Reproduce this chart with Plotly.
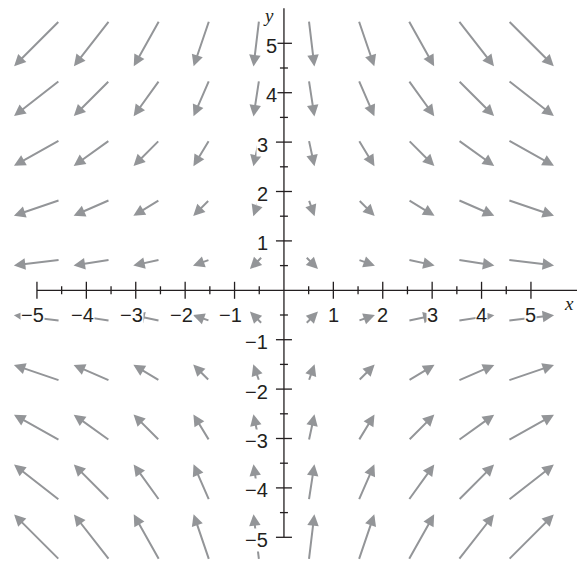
import math
import plotly.graph_objects as go

# ---------------- data ----------------
# arrow centres (columns left->right, rows top->bottom)
grid_x = [-5.0, -3.89, -2.78, -1.67, -0.56, 0.56, 1.67, 2.78, 3.89, 5.0]
grid_y = [5.0, 3.89, 2.78, 1.67, 0.56, -0.56, -1.67, -2.78, -3.89, -5.0]
# field components: horizontal part per column, vertical part per row
field_u = [-5.0, -3.9, -2.8, -1.7, -0.6, 0.6, 1.7, 2.8, 3.9, 5.0]
field_v = [-5.0, -3.9, -2.8, -1.7, -0.6, 0.6, 1.7, 2.8, 3.9, 5.0]

x_tick_major = [-5, -4, -3, -2, -1, 1, 2, 3, 4, 5]
x_tick_minor = [-4.5, -3.5, -2.5, -1.5, -0.5, 0.5, 1.5, 2.5, 3.5, 4.5]
y_tick_major = [-5, -4, -3, -2, -1, 1, 2, 3, 4, 5]
y_tick_minor = [-4.5, -3.5, -2.5, -1.5, -0.5, 0.5, 1.5, 2.5, 3.5, 4.5]
x_tick_text = ["\u22125", "\u22124", "\u22123", "\u22122", "\u22121", "1", "2", "3", "4", "5"]
y_tick_text = ["\u22125", "\u22124", "\u22123", "\u22122", "\u22121", "1", "2", "3", "4", "5"]

# ---------------- layout / style ----------------
W, H = 577, 561
PX = 49.4            # pixels per unit
X0_PX, Y0_PX = 283.95, 290.3
x_range = [-X0_PX / PX, (W - X0_PX) / PX]
y_range = [(Y0_PX - H) / PX, Y0_PX / PX]

ARROW_COLOR = "#939598"
AXIS_COLOR = "#231f20"
TEXT_COLOR = "#231f20"
MIN_LEN, LEN_OFFSET, LEN_GAIN = 18.0, 2.0, 8.85   # arrow length scaling (px)

fig = go.Figure()
fig.add_trace(go.Scatter(x=[], y=[], mode="markers", showlegend=False, hoverinfo="skip"))

annotations = []
for j, cy in enumerate(grid_y):
    for i, cx in enumerate(grid_x):
        u, v = field_u[i], field_v[j]
        mag = math.hypot(u, v)
        L = max(MIN_LEN, LEN_OFFSET + LEN_GAIN * mag) / PX
        dx, dy = u / mag * L / 2, v / mag * L / 2
        annotations.append(dict(
            x=cx + dx, y=cy + dy, ax=cx - dx, ay=cy - dy,
            xref="x", yref="y", axref="x", ayref="y",
            text="", showarrow=True, arrowhead=2, arrowsize=1.15,
            arrowwidth=2, arrowcolor=ARROW_COLOR, standoff=0,
        ))

shapes = []
# axis lines
shapes.append(dict(type="line", xref="x", yref="y", x0=-5, x1=x_range[1], y0=0, y1=0,
                   line=dict(color=AXIS_COLOR, width=1.3), layer="above"))
shapes.append(dict(type="line", xref="x", yref="y", x0=0, x1=0, y0=-5, y1=5.71,
                   line=dict(color=AXIS_COLOR, width=1.3), layer="above"))
# ticks
for t in x_tick_major:
    shapes.append(dict(type="line", xref="x", yref="y", x0=t, x1=t, ysizemode="pixel",
                       yanchor=0, y0=-8.5, y1=8.5, line=dict(color=AXIS_COLOR, width=1.3), layer="above"))
for t in x_tick_minor:
    shapes.append(dict(type="line", xref="x", yref="y", x0=t, x1=t, ysizemode="pixel",
                       yanchor=0, y0=-4, y1=4, line=dict(color=AXIS_COLOR, width=1.3), layer="above"))
for t in y_tick_major:
    shapes.append(dict(type="line", xref="x", yref="y", y0=t, y1=t, xsizemode="pixel",
                       xanchor=0, x0=-8, x1=8, line=dict(color=AXIS_COLOR, width=1.3), layer="above"))
for t in y_tick_minor:
    shapes.append(dict(type="line", xref="x", yref="y", y0=t, y1=t, xsizemode="pixel",
                       xanchor=0, x0=-4, x1=4, line=dict(color=AXIS_COLOR, width=1.3), layer="above"))

label_font = dict(family="Liberation Sans, Arial, Helvetica, sans-serif", size=20, color=TEXT_COLOR)
for t, s in zip(x_tick_major, x_tick_text):
    annotations.append(dict(x=t, y=0, xref="x", yref="y", text=s, showarrow=False,
                            xanchor="center", yanchor="middle", yshift=-25,
                            xshift=-4 if t < 0 else 0, font=label_font,
                            bgcolor="white", borderpad=0))
for t, s in zip(y_tick_major, y_tick_text):
    annotations.append(dict(x=0, y=t, xref="x", yref="y", text=s, showarrow=False,
                            xanchor="right", yanchor="middle", yshift=-2.5,
                            xshift=-6 if t >= 4 else -15, font=label_font,
                            bgcolor="white", borderpad=0))

axis_name_font = dict(family="Liberation Serif, Times New Roman, serif", size=19, color=TEXT_COLOR)
annotations.append(dict(x=0, y=y_range[1], xref="x", yref="y", text="<i>y</i>", showarrow=False,
                        xanchor="right", yanchor="top", xshift=-8, yshift=-3, font=axis_name_font))
annotations.append(dict(x=x_range[1], y=0, xref="x", yref="y", text="<i>x</i>", showarrow=False,
                        xanchor="right", yanchor="middle", xshift=-1, yshift=-13, font=axis_name_font))

fig.update_layout(
    width=W, height=H, autosize=False,
    margin=dict(l=0, r=0, t=0, b=0),
    paper_bgcolor="white", plot_bgcolor="white",
    xaxis=dict(range=x_range, visible=False, fixedrange=True),
    yaxis=dict(range=y_range, visible=False, fixedrange=True),
    shapes=shapes, annotations=annotations, showlegend=False,
)

fig.write_html("out.html", config={"displayModeBar": False},
               post_script="document.body.style.margin='0px';")
